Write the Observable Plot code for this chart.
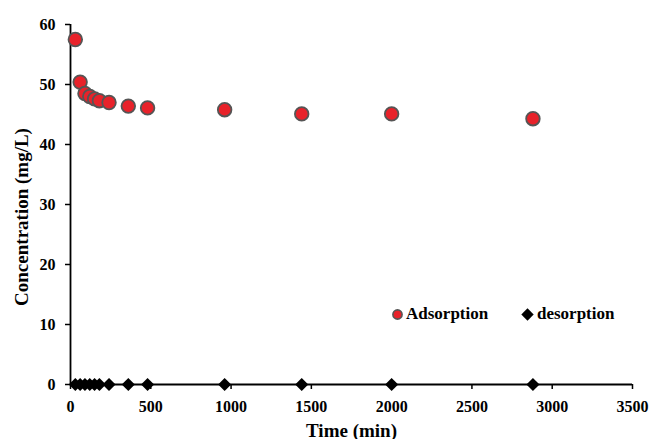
<!DOCTYPE html>
<html>
<head>
<meta charset="utf-8">
<script src="https://cdn.jsdelivr.net/npm/d3@7"></script>
<script src="https://cdn.jsdelivr.net/npm/@observablehq/plot@0.6"></script>
<style>
  body { margin: 0; background: #fff; }
  #chart {
    position: relative;
    width: 651px;
    height: 439px;
    font-family: "Liberation Serif", "Times New Roman", serif;
    font-weight: bold;
  }
  #chart svg { display: block; }
  #chart svg text {
    font-family: "Liberation Serif", "Times New Roman", serif !important;
    font-weight: bold !important;
    fill: #000;
  }
  #chart g[aria-label="x-axis label"] text { font-size: 19px; }
  .legend-item {
    position: absolute;
    top: 304px;
    height: 20px;
    display: flex;
    align-items: center;
    font-size: 17px;
    color: #000;
  }
  .legend-item svg { margin-right: 3px; }
</style>
</head>
<body>
<div id="chart"></div>
<script>
// Sampling times (min) and measured concentrations (mg/L)
const times = [30, 60, 90, 120, 150, 180, 240, 360, 480, 960, 1440, 2000, 2880];
const adsorption = [57.5, 50.4, 48.5, 48.0, 47.6, 47.3, 47.0, 46.4, 46.1, 45.8, 45.1, 45.1, 44.3];
const desorption = [0, 0, 0, 0, 0, 0, 0, 0, 0, 0, 0, 0, 0];

const xTicks = [0, 500, 1000, 1500, 2000, 2500, 3000, 3500];
const yTicks = [0, 10, 20, 30, 40, 50, 60];

const seriesNames = ["Adsorption", "desorption"];
const xTitle = "Time (min)";
const yTitle = "Concentration (mg/L)";
const redFill = "#e8222a";
const dotStroke = "#555555";
const serif = '"Liberation Serif", "Times New Roman", serif';

const adsData = times.map((t, i) => ({time: t, value: adsorption[i]}));
const desData = times.map((t, i) => ({time: t, value: desorption[i]}));

const chart = Plot.plot({
  width: 651,
  height: 439,
  marginLeft: 70,
  marginRight: 19,
  marginTop: 24,
  marginBottom: 55,
  style: {
    fontFamily: serif,
    fontWeight: "bold",
    fontSize: "16px",
    color: "#000",
    background: "#fff",
    overflow: "visible"
  },
  x: {domain: [0, 3500]},
  y: {domain: [0, 60]},
  marks: [
    Plot.axisX({
      ticks: xTicks,
      tickFormat: d => String(d),
      tickSize: 5,
      tickPadding: 11,
      strokeWidth: 1.5,
      fontFamily: serif,
      fontWeight: "bold",
      fontSize: 16,
      label: xTitle,
      labelAnchor: "center",
      labelArrow: "none"
    }),
    Plot.axisY({
      ticks: yTicks,
      tickFormat: d => String(d),
      tickSize: 5,
      tickPadding: 10,
      strokeWidth: 1.5,
      fontFamily: serif,
      fontWeight: "bold",
      fontSize: 16,
      label: null
    }),
    // vertical axis title, centred a little below the frame's midpoint
    Plot.text([yTitle], {
      frameAnchor: "left",
      textAnchor: "middle",
      rotate: -90,
      dx: -49,
      dy: 12.5,
      fontSize: 19,
      fill: "#000"
    }),
    Plot.ruleX([0], {stroke: "#000", strokeWidth: 1.8}),
    Plot.ruleY([0], {stroke: "#000", strokeWidth: 1.8}),
    Plot.dot(adsData, {
      x: "time", y: "value", r: 6.8,
      fill: redFill, stroke: dotStroke, strokeWidth: 1.8
    }),
    Plot.dot(desData, {
      x: "time", y: "value", r: 5.9,
      symbol: "diamond2", fill: "#000", stroke: "none"
    })
  ]
});

const root = document.getElementById("chart");
root.appendChild(chart);

// Legend swatches drawn inline beside their series names
const legendItems = [
  {name: seriesNames[0], left: 392, swatch: `<svg width="11" height="11" viewBox="-5.5 -5.5 11 11"><circle r="4.6" fill="${redFill}" stroke="${dotStroke}" stroke-width="1.6"/></svg>`},
  {name: seriesNames[1], left: 521, swatch: `<svg width="13" height="13" viewBox="-6.5 -6.5 13 13"><path d="M0,-6.2L6.2,0L0,6.2L-6.2,0Z" fill="#000"/></svg>`}
];
for (const item of legendItems) {
  const el = document.createElement("div");
  el.className = "legend-item";
  el.style.left = item.left + "px";
  el.innerHTML = item.swatch + `<span>${item.name}</span>`;
  root.appendChild(el);
}
</script>
</body>
</html>
